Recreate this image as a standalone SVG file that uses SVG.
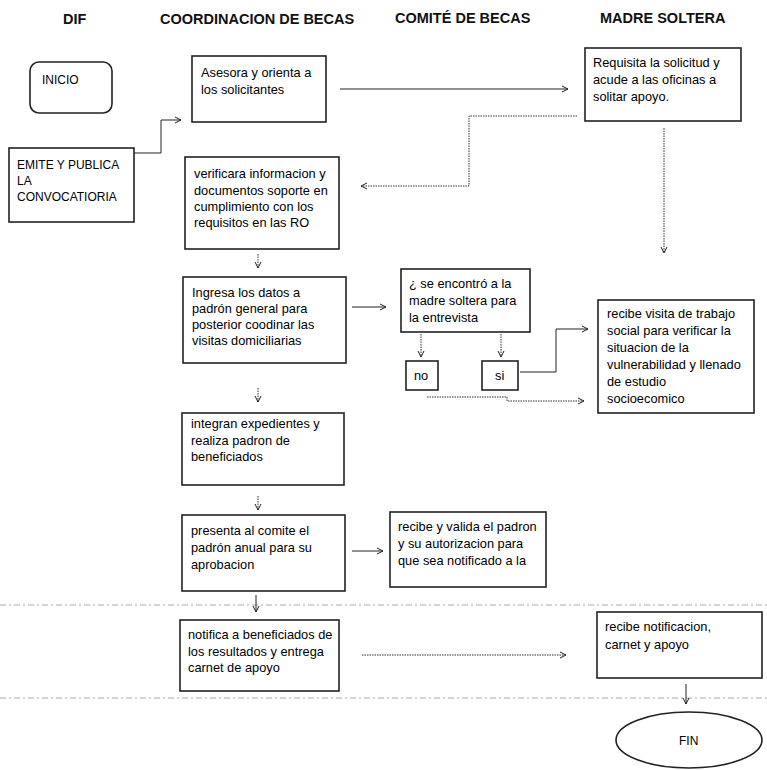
<svg xmlns="http://www.w3.org/2000/svg" width="767" height="770" viewBox="0 0 767 770">
<style>
.bg{fill:#fff}
.box{fill:#fff;stroke:#222;stroke-width:1.6}
.t{font-family:"Liberation Sans",Arial,sans-serif;font-size:12.8px;fill:#000}
.u{font-family:"Liberation Sans",Arial,sans-serif;font-size:12px;fill:#000}
.h{font-family:"Liberation Sans",Arial,sans-serif;font-size:14.5px;font-weight:bold;fill:#111}
.c{fill:none;stroke:#222;stroke-width:1}
.d{fill:none;stroke:#333;stroke-width:1;stroke-dasharray:1.5 1}
.pg{fill:none;stroke:#aaa;stroke-width:1;stroke-dasharray:6 3 2 3}
</style>
<defs>
<marker id="ah" markerWidth="8" markerHeight="8" refX="7" refY="4" orient="auto" markerUnits="userSpaceOnUse">
<path d="M1,1 L7,4 L1,7" fill="none" stroke="#222" stroke-width="1"/>
</marker>
</defs>
<rect class="bg" x="0" y="0" width="767" height="770"/>
<g id="headers">
<text class="h" x="63" y="24">DIF</text>
<text class="h" x="160" y="24">COORDINACION DE BECAS</text>
<text class="h" x="395" y="23">COMITÉ DE BECAS</text>
<text class="h" x="600" y="23">MADRE SOLTERA</text>
</g>
<g id="page-lines">
<path class="pg" d="M0,605 H767"/>
<path class="pg" d="M0,698 H767"/>
</g>
<g id="connectors">
<path class="c" d="M134,153 H161 V120 H181" marker-end="url(#ah)"/>
<path class="c" d="M340,89 H568" marker-end="url(#ah)"/>
<path class="d" d="M577,116 H469 V186 H361" marker-end="url(#ah)"/>
<path class="d" d="M664,128 V253" marker-end="url(#ah)"/>
<path class="d" d="M258,254 V268" marker-end="url(#ah)"/>
<path class="c" d="M352,307 H386" marker-end="url(#ah)"/>
<path class="d" d="M421,334 V357" marker-end="url(#ah)"/>
<path class="d" d="M501,334 V357" marker-end="url(#ah)"/>
<path class="c" d="M520,372 H556 V329 H588" marker-end="url(#ah)"/>
<path class="d" d="M427,397 H507 V401 H584" marker-end="url(#ah)"/>
<path class="d" d="M258,388 V402" marker-end="url(#ah)"/>
<path class="d" d="M258,496 V510" marker-end="url(#ah)"/>
<path class="c" d="M352,551 H383" marker-end="url(#ah)"/>
<path class="c" d="M256,595 V612" marker-end="url(#ah)"/>
<path class="d" d="M362,655 H566" marker-end="url(#ah)"/>
<path class="c" d="M686,684 V704" marker-end="url(#ah)"/>
</g>
<g id="inicio">
<rect class="box" x="30" y="62" width="82" height="51" rx="9"/>
<text class="u" x="42" y="84">INICIO</text>
</g>
<g id="emite">
<rect class="box" x="9" y="148" width="125" height="74"/>
<text class="u" x="17" y="169">EMITE Y PUBLICA</text>
<text class="u" x="17" y="185">LA</text>
<text class="u" x="17" y="201">CONVOCATIORIA</text>
</g>
<g id="asesora">
<rect class="box" x="192" y="56" width="134" height="66"/>
<text class="t" x="201" y="77">Asesora y orienta a</text>
<text class="t" x="201" y="94">los solicitantes</text>
</g>
<g id="requisita">
<rect class="box" x="585" y="48" width="156" height="73"/>
<text class="t" x="593" y="67">Requisita la solicitud y</text>
<text class="t" x="593" y="84">acude a las oficinas a</text>
<text class="t" x="593" y="101">solitar apoyo.</text>
</g>
<g id="verificara">
<rect class="box" x="185" y="157" width="154" height="92"/>
<text class="t" x="194" y="178">verificara informacion y</text>
<text class="t" x="194" y="195">documentos soporte en</text>
<text class="t" x="194" y="211">cumplimiento con los</text>
<text class="t" x="194" y="227">requisitos en las RO</text>
</g>
<g id="ingresa">
<rect class="box" x="183" y="277" width="163" height="86"/>
<text class="t" x="192" y="297">Ingresa los datos a</text>
<text class="t" x="192" y="313">padrón general para</text>
<text class="t" x="192" y="329">posterior coodinar las</text>
<text class="t" x="192" y="345">visitas domiciliarias</text>
</g>
<g id="pregunta">
<rect class="box" x="401" y="269" width="129" height="63"/>
<text class="t" x="409" y="288">¿ se encontró a la</text>
<text class="t" x="409" y="305">madre soltera para</text>
<text class="t" x="409" y="322">la entrevista</text>
</g>
<g id="no">
<rect class="box" x="406" y="361" width="32" height="29"/>
<text class="t" x="414" y="380">no</text>
</g>
<g id="si">
<rect class="box" x="482" y="361" width="36" height="29"/>
<text class="t" x="495" y="380">si</text>
</g>
<g id="visita">
<rect class="box" x="598" y="300" width="156" height="113"/>
<text class="t" x="607" y="318">recibe visita de  trabajo</text>
<text class="t" x="607" y="335">social para verificar la</text>
<text class="t" x="607" y="352">situacion de la</text>
<text class="t" x="607" y="369">vulnerabilidad y llenado</text>
<text class="t" x="607" y="386">de estudio</text>
<text class="t" x="607" y="403">socioecomico</text>
</g>
<g id="integran">
<rect class="box" x="182" y="413" width="162" height="72"/>
<text class="t" x="191" y="428">integran expedientes y</text>
<text class="t" x="191" y="445">realiza padron de</text>
<text class="t" x="191" y="461">beneficiados</text>
</g>
<g id="presenta">
<rect class="box" x="182" y="515" width="163" height="76"/>
<text class="t" x="191" y="535">presenta al comite  el</text>
<text class="t" x="191" y="552">padrón anual para su</text>
<text class="t" x="191" y="569">aprobacion</text>
</g>
<g id="valida">
<rect class="box" x="390" y="512" width="156" height="75"/>
<text class="t" x="398" y="531">recibe y valida el padron</text>
<text class="t" x="398" y="548">y su autorizacion para</text>
<text class="t" x="398" y="565">que sea notificado a la</text>
</g>
<g id="notifica">
<rect class="box" x="180" y="620" width="159" height="71"/>
<text class="t" x="188" y="639">notifica a beneficiados de</text>
<text class="t" x="188" y="656">los resultados y entrega</text>
<text class="t" x="188" y="672">carnet de apoyo</text>
</g>
<g id="recibe-notificacion">
<rect class="box" x="597" y="612" width="165" height="66"/>
<text class="t" x="605" y="631">recibe notificacion,</text>
<text class="t" x="605" y="649">carnet y apoyo</text>
</g>
<g id="fin">
<ellipse class="box" cx="689" cy="740" rx="73" ry="28"/>
<text class="u" x="679" y="745">FIN</text>
</g>
</svg>
